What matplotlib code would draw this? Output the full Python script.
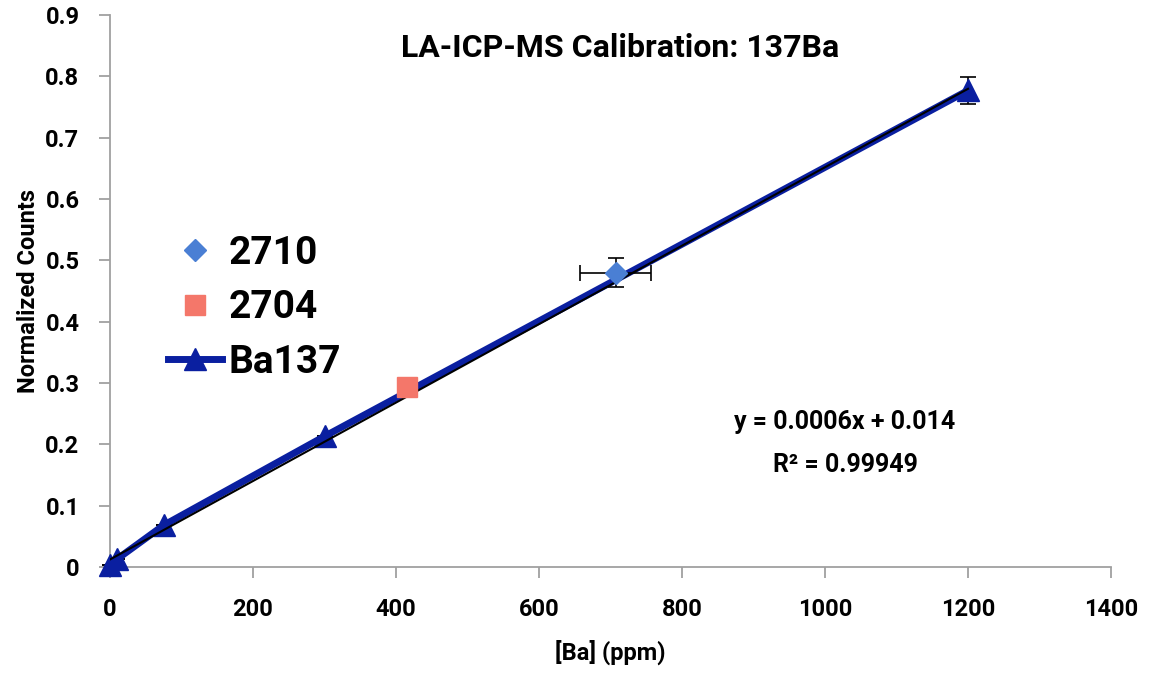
import matplotlib.pyplot as plt
from matplotlib.lines import Line2D
import numpy as np

plt.rcParams['font.family'] = ['Roboto', 'DejaVu Sans']
plt.rcParams['font.weight'] = 'bold'

# calibration standards (Ba137)
ba_x = [0, 10, 75, 300, 1200]
ba_y = [0.004, 0.013, 0.068, 0.213, 0.777]
ba_yerr = [0, 0, 0, 0, 0.022]

# reference materials
x2710 = [707]
y2710 = [0.480]
x2710_err = [50]
y2710_err = [0.023]

x2704 = [415]
y2704 = [0.293]

c2710 = '#4a7fd4'
c2704 = '#f4776a'
cba = '#0a1fa0'

fig = plt.figure(figsize=(11.53, 6.78), dpi=100)
ax = fig.add_axes([110/1153, 1-567/678, (1111-110)/1153, (567-15)/678])

ax.errorbar(x2710, y2710, xerr=x2710_err, yerr=y2710_err, fmt='D', color=c2710,
            ms=11, ecolor='black', elinewidth=1.2, capsize=6, capthick=1.2, zorder=4)
ax.plot(x2704, y2704, 's', color=c2704, ms=14, zorder=4)
ax.errorbar(ba_x, ba_y, yerr=ba_yerr, fmt='-^', color=cba, lw=5, ms=16,
            ecolor='black', elinewidth=1.2, capsize=6, capthick=1.2, zorder=3,
            clip_on=False)

# linear trend line
p = np.polyfit(ba_x, ba_y, 1)
tx = np.array([0, 1200])
ax.plot(tx, np.polyval(p, tx), color='black', lw=1.5, zorder=3.5)

ax.set_xlim(0, 1400)
ax.set_ylim(0, 0.9)
ax.set_xticks(np.arange(0, 1401, 200))
ax.set_yticks(np.arange(0, 0.91, 0.1))
ax.set_yticklabels(['0'] + ['%.1f' % v for v in np.arange(0.1, 0.91, 0.1)])
for s in ['top', 'right']:
    ax.spines[s].set_visible(False)
for s in ['left', 'bottom']:
    ax.spines[s].set_color('#a0a0a0')
    ax.spines[s].set_linewidth(1.3)
ax.tick_params(colors='#a0a0a0', length=8, width=1.3, labelcolor='black', labelsize=17)
ax.tick_params(axis='x', pad=14)
ax.tick_params(axis='y', pad=14)

ax.set_xlabel('[Ba] (ppm)', fontsize=17, fontweight='bold', labelpad=14)
ax.set_ylabel('Normalized Counts', fontsize=17, fontweight='bold', labelpad=4)
ax.text(713, 0.846, 'LA-ICP-MS Calibration: 137Ba', fontsize=23, ha='center', va='center',
        fontweight='bold')
ax.text(1028, 0.236, 'y = 0.0006x + 0.014', fontsize=18, ha='center', va='center',
        fontweight='bold')
ax.text(1028, 0.166, 'R² = 0.99949', fontsize=18, ha='center', va='center', fontweight='bold')

handles = [Line2D([], [], ls='none', marker='D', color=c2710, ms=11),
           Line2D([], [], ls='none', marker='s', color=c2704, ms=14),
           Line2D([], [], ls='-', lw=5, marker='^', color=cba, ms=16)]
ax.legend(handles, ['2710', '2704', 'Ba137'], loc='upper left', bbox_to_anchor=(0.023, 0.665),
          frameon=False, fontsize=28, handlelength=1.4, handletextpad=0.15, labelspacing=0.45)

fig.savefig('out.png', dpi=100)
